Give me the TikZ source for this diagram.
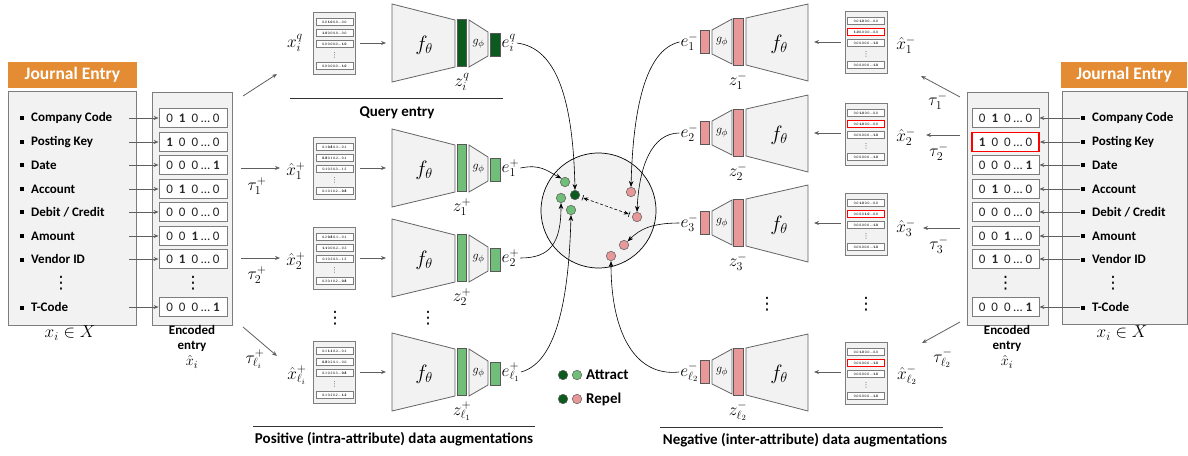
\documentclass[tikz,border=0pt]{standalone}
\usepackage{fontspec}
\setmainfont{Carlito}
\newfontfamily\djv{DejaVu Sans}
\usetikzlibrary{arrows.meta,calc}
\definecolor{dgreen}{RGB}{12,90,30}
\definecolor{lgreen}{RGB}{112,190,120}
\definecolor{pinkc}{RGB}{232,152,152}
\definecolor{orangec}{RGB}{228,140,52}
\definecolor{boxfill}{RGB}{242,242,242}
\definecolor{boxline}{RGB}{125,125,125}
\definecolor{arrgray}{RGB}{95,95,95}
\newcommand\sqb{\raisebox{1.8pt}{\rule{4pt}{4pt}}\hspace{7pt}}
\newcommand\enc[5]{#1\hspace{6pt}#2\hspace{6pt}#3\hspace{2.5pt}...\hspace{2.5pt}#5}
\newcommand\vdt{{\djv ⋮}}
\newcommand\dbox[8]{%
  \node[dboxst] (#1) at (#2,#3) {};
  \node[dcell] (#1-a) at (#2,#3-21) {#4};
  \node[#8] (#1-b) at (#2,#3-10) {#5};
  \node[dcell] (#1-c) at (#2,#3+1) {#6};
  \node[dvd] (#1-v) at (#2,#3+12) {\vdt};
  \node[dcell] (#1-d) at (#2,#3+23) {#7};
}
\newcommand\posnet[5]{%
  \draw[trap] (392,#2-39) -- (455,#2-23) -- (455,#2+24) -- (392,#2+39) -- cycle;
  \node[fth] (#1-f) at (424,#2+2) {$f_\theta$};
  \node[bar, fill=#3, minimum height=47pt] (#1-z) at (462,#2) {};
  \draw[trap] (469,#2-23) -- (488,#2-11) -- (488,#2+13) -- (469,#2+24) -- cycle;
  \node[gph] (#1-g) at (478.5,#2+1) {$g_\phi$};
  \node[bar, fill=#3, minimum height=23pt] (#1-e) at (495.5,#2+1.5) {};
  \node[lbl, anchor=west] (#1-el) at (500.5,#2) {#4};
  \node[lbl] (#1-zl) at (462,#2+39) {#5};
  \coordinate (#1-in) at (386,#2);
}
\newcommand\negnet[4]{%
  \draw[trap] (746,#2-24) -- (808,#2-38) -- (808,#2+39) -- (746,#2+23) -- cycle;
  \node[fth] (#1-f) at (779,#2+2) {$f_\theta$};
  \node[bar, fill=pinkc, minimum height=47pt] (#1-z) at (738.5,#2) {};
  \draw[trap] (712,#2-12) -- (732,#2-23) -- (732,#2+22) -- (712,#2+12) -- cycle;
  \node[gph] (#1-g) at (722,#2) {$g_\phi$};
  \node[bar, fill=pinkc, minimum height=23pt] (#1-e) at (705,#2) {};
  \node[lbl, anchor=east] (#1-el) at (699.5,#2) {#3};
  \node[lbl] (#1-zl) at (738,#2+39) {#4};
  \coordinate (#1-in) at (814,#2);
}
\tikzset{
  jebox/.style={draw=boxline, fill=boxfill, line width=0.8pt, inner sep=0},
  header/.style={fill=orangec, text=white, font=\fontsize{17.5}{20}\selectfont\bfseries, minimum width=129pt, minimum height=26pt, inner sep=0},
  item/.style={anchor=west, inner sep=0, font=\fontsize{13}{15}\selectfont\bfseries},
  ecell/.style={draw=boxline, fill=white, line width=0.8pt, minimum width=68pt, minimum height=19pt, inner sep=0, font=\fontsize{13}{15}\selectfont, text=black!85},
  ecellred/.style={ecell, draw=red, line width=1.6pt},
  earr/.style={draw=arrgray, line width=0.8pt, -{Stealth[length=5pt,width=4pt]}},
  dboxst/.style={draw=boxline, fill=boxfill, line width=0.8pt, minimum width=42pt, minimum height=62pt, inner sep=0},
  dcell/.style={draw=boxline, fill=white, line width=0.6pt, minimum width=37pt, minimum height=7pt, inner sep=0, font=\fontsize{3.6}{4}\selectfont},
  dcellred/.style={dcell, draw=red, line width=1.1pt},
  dvd/.style={inner sep=0, font=\fontsize{7}{7}\selectfont, text=black!70},
  trap/.style={draw=boxline!80!black, fill=boxfill, line width=0.8pt},
  bar/.style={draw=boxline!70!black, line width=0.8pt, minimum width=9.5pt, inner sep=0},
  fth/.style={inner sep=0, font=\fontsize{22}{24}\selectfont},
  gph/.style={inner sep=0, font=\fontsize{13}{14}\selectfont},
  lbl/.style={inner sep=1pt, font=\fontsize{17}{20}\selectfont},
  captxt/.style={inner sep=0, font=\fontsize{15}{17}\selectfont\bfseries},
  smallcap/.style={inner sep=0, font=\fontsize{13}{15}\selectfont\bfseries, align=center},
  dot/.style={circle, draw=black!65, line width=0.5pt, minimum size=9.5pt, inner sep=0},
  link/.style={draw=black, line width=0.6pt, -{Stealth[length=6pt,width=4.5pt]}},
  vd/.style={inner sep=0, font=\fontsize{17}{17}\selectfont},
}
\begin{document}
\begin{tikzpicture}[x=1pt, y=-1pt]
\useasboundingbox (0,0) rectangle (1188,455);

% ---------------- left journal entry ----------------
\node[header] (JLh) at (72.5,75) {Journal Entry};
\node[jebox, minimum width=128pt, minimum height=234pt] (JL) at (72,208) {};
\node[jebox, minimum width=80pt, minimum height=233pt] (EL) at (192,208.5) {};
\node[item] (JL1) at (20,118) {\sqb Company Code};
\node[item] (JL2) at (20,142) {\sqb Posting Key};
\node[item] (JL3) at (20,165) {\sqb Date};
\node[item] (JL4) at (20,189) {\sqb Account};
\node[item] (JL5) at (20,212) {\sqb Debit / Credit};
\node[item] (JL6) at (20,236) {\sqb Amount};
\node[item] (JL7) at (20,259) {\sqb Vendor ID};
\node[vd] (JLv) at (61,283) {\vdt};
\node[item] (JL8) at (20,307) {\sqb T-Code};
\node[ecell] (EL1) at (193,118) {\enc{0}{\textbf{1}}{0}{}{0}};
\node[ecell] (EL2) at (193,142) {\enc{\textbf{1}}{0}{0}{}{0}};
\node[ecell] (EL3) at (193,165) {\enc{0}{0}{0}{}{\textbf{1}}};
\node[ecell] (EL4) at (193,189) {\enc{0}{\textbf{1}}{0}{}{0}};
\node[ecell] (EL5) at (193,212) {\enc{0}{0}{0}{}{0}};
\node[ecell] (EL6) at (193,236) {\enc{0}{0}{\textbf{1}}{}{0}};
\node[ecell] (EL7) at (193,259) {\enc{0}{\textbf{1}}{0}{}{0}};
\node[vd] (ELv) at (193,283) {\vdt};
\node[ecell] (EL8) at (193,307) {\enc{0}{0}{0}{}{\textbf{1}}};
\foreach \i in {1,...,8} {\draw[earr] ([xshift=-7pt]JL.east |- EL\i) -- (EL\i.west);}
\node[lbl, font=\fontsize{18}{20}\selectfont] (XL) at (70,333) {$x_i \in X$};
\node[smallcap] (ELt) at (192,338) {Encoded\\entry};
\node[lbl, font=\fontsize{15}{18}\selectfont] (ELx) at (192,362) {$\hat{x}_i$};

% ---------------- right journal entry ----------------
\node[header, minimum width=126pt] (JRh) at (1124,75) {Journal Entry};
\node[jebox, minimum width=125pt, minimum height=233pt] (JR) at (1124.5,208) {};
\node[jebox, minimum width=81pt, minimum height=233pt] (ER) at (1007.5,208.5) {};
\node[item] (JR1) at (1081,118) {\sqb Company Code};
\node[item] (JR2) at (1081,142) {\sqb Posting Key};
\node[item] (JR3) at (1081,165) {\sqb Date};
\node[item] (JR4) at (1081,189) {\sqb Account};
\node[item] (JR5) at (1081,212) {\sqb Debit / Credit};
\node[item] (JR6) at (1081,236) {\sqb Amount};
\node[item] (JR7) at (1081,259) {\sqb Vendor ID};
\node[vd] (JRv) at (1113,283) {\vdt};
\node[item] (JR8) at (1081,307) {\sqb T-Code};
\node[ecell, minimum width=67pt] (ER1) at (1005.5,118) {\enc{0}{\textbf{1}}{0}{}{0}};
\node[ecellred, minimum width=67pt] (ER2) at (1005.5,142) {\enc{\textbf{1}}{0}{0}{}{0}};
\node[ecell, minimum width=67pt] (ER3) at (1005.5,165) {\enc{0}{0}{0}{}{\textbf{1}}};
\node[ecell, minimum width=67pt] (ER4) at (1005.5,189) {\enc{0}{\textbf{1}}{0}{}{0}};
\node[ecell, minimum width=67pt] (ER5) at (1005.5,212) {\enc{0}{0}{0}{}{0}};
\node[ecell, minimum width=67pt] (ER6) at (1005.5,236) {\enc{0}{0}{\textbf{1}}{}{0}};
\node[ecell, minimum width=67pt] (ER7) at (1005.5,259) {\enc{0}{\textbf{1}}{0}{}{0}};
\node[vd] (ERv) at (1005.5,283) {\vdt};
\node[ecell, minimum width=67pt] (ER8) at (1005.5,307) {\enc{0}{0}{0}{}{\textbf{1}}};
\foreach \i in {1,...,8} {\draw[earr] ([xshift=18pt]JR.west |- ER\i) -- (ER\i.east);}
\node[lbl, font=\fontsize{18}{20}\selectfont] (XR) at (1122,333) {$x_i \in X$};
\node[smallcap] (ERt) at (1007,338) {Encoded\\entry};
\node[lbl, font=\fontsize{15}{18}\selectfont] (ERx) at (1007,362) {$\hat{x}_i$};

% ---------------- positive side ----------------
\dbox{qd}{334.5}{43}{0.0 \textbf{1.0} 0.0 … 0.0}{\textbf{1.0} 0.0 0.0 … 0.0}{0.0 0.0 0.0 … \textbf{1.0}}{0.0 0.0 0.0 … \textbf{1.0}}{dcell}
\dbox{p1d}{334.5}{168}{0.1 \textbf{0.8} 0.3 … 0.1}{\textbf{0.8} 0.1 0.2 … 0.1}{0.1 0.3 0.3 … 1.5}{0.1 0.1 0.2 … \textbf{0.8}}{dcell}
\dbox{p2d}{334.5}{258}{0.2 \textbf{0.8} 0.1 … 0.1}{\textbf{1.1} 0.0 0.2 … 0.3}{0.1 0.3 0.3 … 1.5}{0.3 0.1 0.2 … \textbf{0.8}}{dcell}
\dbox{pld}{334.5}{372}{0.1 \textbf{1.1} 0.2 … 0.1}{\textbf{0.8} 0.2 0.1 … 0.0}{0.1 0.3 0.3 … \textbf{0.8}}{0.1 0.2 0.2 … \textbf{1.2}}{dcell}
\node[lbl] (qx) at (295,43) {$x_i^q$};
\node[lbl] (p1x) at (296,171) {$\hat{x}_1^+$};
\node[lbl] (p2x) at (296,261) {$\hat{x}_2^+$};
\node[lbl] (plx) at (297,375) {$\hat{x}_{\ell_i}^+$};
\posnet{q}{43}{dgreen}{$e_i^q$}{$z_i^q$}
\posnet{p1}{168}{lgreen}{$e_1^+$}{$z_1^+$}
\posnet{p2}{258}{lgreen}{$e_2^+$}{$z_2^+$}
\posnet{pl}{372}{lgreen}{$e_{\ell_1}^+$}{$z_{\ell_1}^+$}
\foreach \r in {q,p1,p2,pl} {\draw[earr, shorten <=4pt] (\r d.east |- \r-in) -- (\r-in);}
\node[vd] (pv1) at (335,318) {\vdt};
\node[vd] (pv2) at (428,318) {\vdt};
% tau plus arrows
\coordinate (tqs) at (243,96); \coordinate (tqt) at (277,74);
\coordinate (t1s) at (241,168); \coordinate (t1t) at (280,168);
\coordinate (t2s) at (241,258); \coordinate (t2t) at (280,258);
\coordinate (tls) at (243,327); \coordinate (tlt) at (277,356);
\draw[earr] (tqs) -- (tqt);
\draw[earr] (t1s) -- (t1t);
\draw[earr] (t2s) -- (t2t);
\draw[earr] (tls) -- (tlt);
\node[lbl] (t1l) at (257,186) {$\tau_1^+$};
\node[lbl] (t2l) at (257,275) {$\tau_2^+$};
\node[lbl] (tll) at (255,359) {$\tau_{\ell_i}^+$};
% captions
\draw[line width=0.8pt, black!80] (290,98) -- (503,98);
\node[captxt] (qcap) at (397,113) {Query entry};
\draw[line width=0.8pt, black!80] (253,426) -- (535,426);
\node[captxt] (pcap) at (394,439) {Positive (intra-attribute) data augmentations};

% ---------------- negative side ----------------
\dbox{n1d}{866}{42}{0.0 \textbf{1.0} 0.0 … 0.0}{\textbf{1.0} 0.0 0.0 … 0.0}{0.0 0.0 0.0 … \textbf{1.0}}{0.0 0.0 0.0 … \textbf{1.0}}{dcellred}
\dbox{n2d}{866}{134}{0.0 \textbf{1.0} 0.0 … 0.0}{0.0 \textbf{1.0} 0.0 … 0.0}{0.0 0.0 0.0 … \textbf{1.0}}{0.0 0.0 0.0 … \textbf{1.0}}{dcellred}
\dbox{n3d}{866}{224}{0.0 \textbf{1.0} 0.0 … 0.0}{0.0 0.0 \textbf{1.0} … 0.0}{0.0 0.0 0.0 … \textbf{1.0}}{0.0 0.0 0.0 … \textbf{1.0}}{dcellred}
\dbox{nld}{866}{373}{0.0 \textbf{1.0} 0.0 … 0.0}{0.0 0.0 0.0 … \textbf{1.0}}{0.0 0.0 0.0 … \textbf{1.0}}{0.0 0.0 0.0 … \textbf{1.0}}{dcellred}
\node[lbl] (n1x) at (906,45) {$\hat{x}_1^-$};
\node[lbl] (n2x) at (906,137) {$\hat{x}_2^-$};
\node[lbl] (n3x) at (906,228) {$\hat{x}_3^-$};
\node[lbl] (nlx) at (907,375) {$\hat{x}_{\ell_2}^-$};
\negnet{n1}{42}{$e_1^-$}{$z_1^-$}
\negnet{n2}{133}{$e_2^-$}{$z_2^-$}
\negnet{n3}{223}{$e_3^-$}{$z_3^-$}
\negnet{nl}{372}{$e_{\ell_2}^-$}{$z_{\ell_2}^-$}
\foreach \r in {n1,n2,n3,nl} {\draw[earr, shorten <=4pt] (\r d.west |- \r-in) -- (\r-in);}
\node[vd] (nv1) at (767,304) {\vdt};
\node[vd] (nv2) at (866,304) {\vdt};
\coordinate (u1s) at (960,97); \coordinate (u1t) at (921,76);
\coordinate (u2s) at (960,135); \coordinate (u2t) at (926,135);
\coordinate (u3s) at (960,228); \coordinate (u3t) at (923,228);
\coordinate (uls) at (960,322); \coordinate (ult) at (922,343);
\draw[earr] (u1s) -- (u1t);
\draw[earr] (u2s) -- (u2t);
\draw[earr] (u3s) -- (u3t);
\draw[earr] (uls) -- (ult);
\node[lbl] (u1l) at (938,101) {$\tau_1^-$};
\node[lbl] (u2l) at (939,152) {$\tau_2^-$};
\node[lbl] (u3l) at (939,245) {$\tau_3^-$};
\node[lbl] (ull) at (943,358) {$\tau_{\ell_2}^-$};
\draw[line width=0.8pt, black!80] (660,427) -- (943,427);
\node[captxt] (ncap) at (805,440) {Negative (inter-attribute) data augmentations};

% ---------------- embedding space ----------------
\node[circle, draw=black, line width=0.7pt, fill=boxfill, minimum size=115pt, inner sep=0] (emb) at (598.5,210.5) {};
\node[dot, fill=lgreen] (lg1) at (565,182) {};
\node[dot, fill=dgreen] (dg) at (575,195) {};
\node[dot, fill=lgreen] (lg2) at (561,198) {};
\node[dot, fill=lgreen] (lg3) at (571,210) {};
\node[dot, fill=pinkc] (pk1) at (631,192) {};
\node[dot, fill=pinkc] (pk2) at (637,217) {};
\node[dot, fill=pinkc] (pk3) at (624,245) {};
\node[dot, fill=pinkc] (pk4) at (611,256) {};
\draw[densely dashed, line width=0.6pt, >={Stealth[length=5pt,width=4pt]}, |<->|, shorten <=3pt, shorten >=3pt] (dg) -- (pk2);
\draw[link] (q-el.east) .. controls +(40,5) and +(-2,-90) .. (dg.north);
\draw[link] (p1-el.east) .. controls +(20,-4) and +(-15,-8) .. (lg1.north west);
\draw[link] (p2-el.east) .. controls +(30,0) and +(0,40) .. (lg2.south);
\draw[link] (pl-el.east) .. controls +(38,-10) and +(-2,75) .. (lg3.south);
\draw[link] (n1-el.west) .. controls +(-35,8) and +(2,-75) .. (pk1.north);
\draw[link] (n2-el.west) .. controls +(-28,0) and +(2,-45) .. (pk2.north);
\draw[link] (n3-el.west) .. controls +(-28,0) and +(12,-12) .. (pk3.north east);
\draw[link] (nl-el.west) .. controls +(-45,5) and +(0,70) .. (pk4.south);

% legend
\node[dot, fill=dgreen] (ld1) at (563,375) {};
\node[dot, fill=lgreen] (ld2) at (577,375) {};
\node[captxt, anchor=west] (lt1) at (586,375) {Attract};
\node[dot, fill=dgreen] (ld3) at (563,399) {};
\node[dot, fill=pinkc] (ld4) at (577,399) {};
\node[captxt, anchor=west] (lt2) at (586,399) {Repel};
\end{tikzpicture}
\end{document}
